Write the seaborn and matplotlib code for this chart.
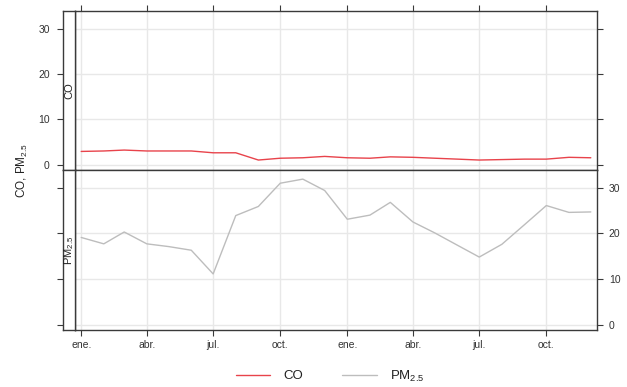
import numpy as np
import pandas as pd
import matplotlib
matplotlib.use("Agg")
import matplotlib.pyplot as plt
import matplotlib.dates as mdates
from matplotlib.lines import Line2D
import seaborn as sns

# ---- data ----
months = pd.date_range("2017-01-01", periods=24, freq="MS")
co = [2.9, 3.0, 3.2, 3.0, 3.0, 3.0, 2.6, 2.6, 1.0, 1.4, 1.5, 1.8,
      1.5, 1.4, 1.7, 1.6, 1.4, 1.2, 1.0, 1.1, 1.2, 1.2, 1.6, 1.5]
pm25 = [19.1, 17.7, 20.3, 17.7, 17.1, 16.3, 11.1, 23.9, 25.9, 31.0, 31.9, 29.4,
        23.1, 24.0, 26.8, 22.5, 20.1, 17.4, 14.8, 17.6, 21.9, 26.1, 24.6, 24.7]
tick_dates = ["2017-01-01", "2017-04-01", "2017-07-01", "2017-10-01",
              "2018-01-01", "2018-04-01", "2018-07-01", "2018-10-01"]
tick_labels = ["ene.", "abr.", "jul.", "oct.", "ene.", "abr.", "jul.", "oct."]
y_ticks = [0, 10, 20, 30]
series_names = ["CO", "PM$_{2.5}$"]

df_co = pd.DataFrame({"date": months, "value": co})
df_pm = pd.DataFrame({"date": months, "value": pm25})

# ---- style ----
sns.set_style("white")
plt.rcParams["font.family"] = ["Liberation Sans", "DejaVu Sans"]
plt.rcParams["mathtext.fontset"] = "custom"
plt.rcParams["mathtext.rm"] = "Liberation Sans"
plt.rcParams["mathtext.it"] = "Liberation Sans:italic"
plt.rcParams["mathtext.bf"] = "Liberation Sans:bold"

RED = "#E8434B"
GREY = "#BDBDBD"
FRAME = "#3a3a3a"
GRID = "#E8E8E8"
TXT = "#333333"

W, H = 627, 387
fig = plt.figure(figsize=(W / 100, H / 100), dpi=100)


def box(l, t, r, b):
    return [l / W, 1 - b / H, (r - l) / W, (b - t) / H]


ax_top = fig.add_axes(box(75, 11, 597, 170))
ax_bot = fig.add_axes(box(75, 170, 597, 330))
st_top = fig.add_axes(box(63, 11, 75, 170))
st_bot = fig.add_axes(box(63, 170, 75, 330))

ylim = (-1.2, 33.9)
x0 = mdates.date2num(months[0]) - 8.5
x1 = mdates.date2num(months[-1]) + 8.5
tick_nums = [mdates.date2num(pd.Timestamp(d)) for d in tick_dates]

sns.lineplot(data=df_co, x="date", y="value", ax=ax_top, color=RED, lw=1.0)
sns.lineplot(data=df_pm, x="date", y="value", ax=ax_bot, color=GREY, lw=1.0)

for ax in (ax_top, ax_bot):
    ax.set_xlim(x0, x1)
    ax.set_ylim(*ylim)
    ax.set_xlabel("")
    ax.set_ylabel("")
    ax.set_xticks(tick_nums)
    ax.set_yticks(y_ticks)
    ax.grid(True, color=GRID, lw=1.0)
    ax.set_axisbelow(True)
    for s in ax.spines.values():
        s.set_color(FRAME)
        s.set_linewidth(1.0)
    ax.tick_params(axis="both", direction="out", length=4.5, width=0.8,
                   color=FRAME, labelcolor=TXT, labelsize=7.5)

# top panel: x ticks on top (no labels), y ticks right (no labels)
ax_top.tick_params(axis="x", bottom=False, top=True, labelbottom=False, labeltop=False)
ax_top.tick_params(axis="y", left=False, right=True, labelleft=False, labelright=False)
# bottom panel: x ticks bottom with labels, y ticks right with labels
ax_bot.set_xticklabels(tick_labels)
ax_bot.tick_params(axis="x", bottom=True, top=False, labelbottom=True, pad=3, labelsize=7.5)
ax_bot.tick_params(axis="y", left=False, right=True, labelleft=False, labelright=True, pad=4)

# strips
for st, name, lab in ((st_top, series_names[0], True), (st_bot, series_names[1], False)):
    st.set_xlim(0, 1)
    st.set_ylim(*ylim)
    st.set_xticks([])
    st.set_yticks(y_ticks)
    st.set_facecolor("white")
    for s in st.spines.values():
        s.set_color(FRAME)
        s.set_linewidth(1.0)
    st.tick_params(axis="y", direction="out", length=4.5, width=0.8, color=FRAME,
                   labelcolor=TXT, labelsize=7.5, left=True, right=False,
                   labelleft=lab, pad=5)
    st.text(0.5, 0.5, name, rotation=90, ha="center", va="center",
            fontsize=8, color="#222222", transform=st.transAxes)

fig.text(22 / W, 1 - 170 / H, "CO, PM$_{2.5}$", rotation=90, ha="center",
         va="center", fontsize=8.5, color="#222222")

handles = [Line2D([], [], color=RED, lw=1.0), Line2D([], [], color=GREY, lw=1.0)]
fig.legend(handles, series_names, loc="center", bbox_to_anchor=(330 / W, 1 - 376 / H),
           ncol=2, frameon=False, fontsize=9.5, handlelength=2.6, handletextpad=1.0,
           columnspacing=3.0, labelcolor="#222222")

fig.savefig("out.png", dpi=100)
